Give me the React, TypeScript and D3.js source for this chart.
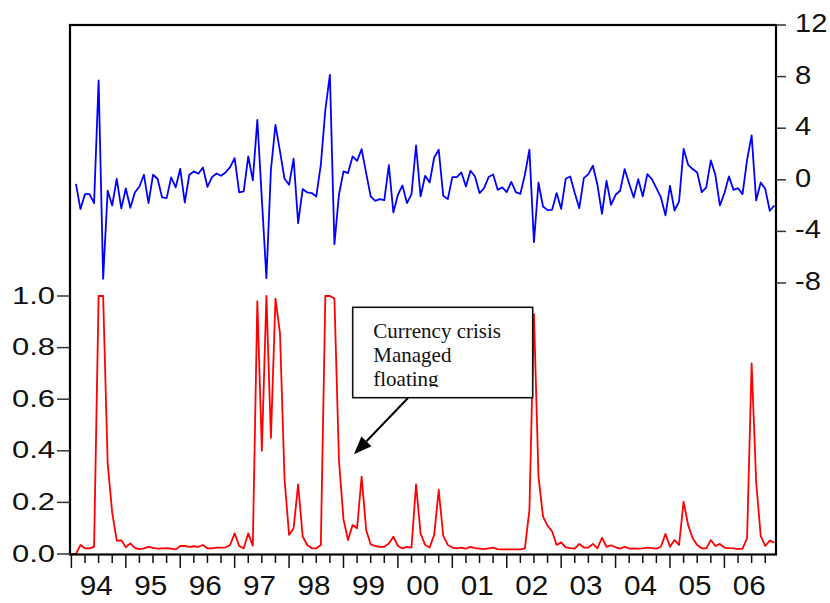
import React from "react";
import * as d3 from "d3";

// Monthly observations 1994M1 .. 2006M12
const startYear = 1994;
const yearLabels = ["94", "95", "96", "97", "98", "99", "00", "01", "02", "03", "04", "05", "06"];

// Probability series (left axis), 1994M1..2006M12
const probValues = [
  0, 0, 0.035, 0.022, 0.022, 0.028, 1.0, 1.0, 0.35, 0.16,
  0.052, 0.053, 0.026, 0.041, 0.024, 0.019, 0.022, 0.028, 0.024, 0.021,
  0.022, 0.023, 0.021, 0.018, 0.031, 0.031, 0.028, 0.03, 0.028, 0.035,
  0.022, 0.022, 0.025, 0.025, 0.026, 0.035, 0.08, 0.031, 0.022, 0.08,
  0.032, 0.98, 0.4, 1.0, 0.45, 0.99, 0.855, 0.29, 0.074, 0.1,
  0.27, 0.068, 0.035, 0.022, 0.022, 0.035, 1.0, 1.0, 0.99, 0.364,
  0.134, 0.054, 0.112, 0.1, 0.3, 0.093, 0.037, 0.031, 0.028, 0.028,
  0.041, 0.067, 0.031, 0.022, 0.028, 0.025, 0.27, 0.08, 0.035, 0.025,
  0.074, 0.248, 0.07, 0.035, 0.025, 0.022, 0.025, 0.021, 0.028, 0.023,
  0.021, 0.019, 0.022, 0.025, 0.019, 0.018, 0.018, 0.018, 0.018, 0.018,
  0.022, 0.17, 0.93, 0.3, 0.145, 0.11, 0.087, 0.035, 0.045, 0.026,
  0.023, 0.021, 0.039, 0.025, 0.025, 0.039, 0.022, 0.063, 0.028, 0.034,
  0.026, 0.021, 0.028, 0.021, 0.022, 0.021, 0.022, 0.025, 0.023, 0.021,
  0.028, 0.078, 0.028, 0.054, 0.035, 0.203, 0.112, 0.061, 0.035, 0.022,
  0.022, 0.054, 0.031, 0.039, 0.025, 0.023, 0.022, 0.019, 0.021, 0.061,
  0.739, 0.28, 0.07, 0.031, 0.052, 0.044,
];

// Change series (right axis), 1994M2..2006M12
const changeValues = [
  -0.31, -2.27, -1.11, -1.11, -1.81, 7.7, -7.67, -0.85, -1.99, 0.08,
  -2.22, -0.67, -2.17, -0.98, -0.52, 0.39, -1.81, 0.39, 0.08, -1.37,
  -1.42, 0.18, -0.59, 0.85, -1.76, 0.39, 0.65, 0.47, 0.96, -0.54,
  0.21, 0.49, 0.31, 0.57, 0.98, 1.68, -0.98, -0.9, 1.81, -0.05,
  4.65, -1.5, -7.62, 0.78, 4.26, 2.2, 0.08, -0.39, 1.63, -3.36,
  -0.72, -0.98, -1.03, -1.29, 1.15, 5.43, 8.14, -4.99, -1.16, 0.65,
  0.52, 1.81, 1.47, 2.38, 0.52, -1.29, -1.63, -1.5, -1.58, 1.14,
  -2.53, -1.16, -0.44, -1.81, -1.11, 2.66, -1.29, 0.31, -0.21, 1.73,
  2.33, -1.24, -1.5, 0.21, 0.21, 0.57, -0.52, 0.7, 0.26, -1.03,
  -0.65, 0.21, 0.41, -0.78, -0.59, -0.96, -0.16, -0.96, -1.09, 0.39,
  2.33, -4.83, -0.23, -2.07, -2.35, -2.33, -1.03, -2.25, 0.08, 0.26,
  -1.03, -2.2, 0.13, 0.44, 1.09, -0.39, -2.64, -0.08, -1.94, -1.16,
  -0.85, 0.83, -0.31, -1.37, 0.05, -1.29, 0.44, 0.05, -0.65, -1.37,
  -2.76, -0.47, -2.38, -1.68, 2.4, 1.16, 0.83, 0.57, -0.96, -0.59,
  1.5, 0.39, -1.99, -1.03, 0.26, -0.78, -0.65, -1.11, 1.55, 3.44,
  -1.6, -0.21, -0.7, -2.4, -1.99,
];

const leftTicks = [0, 0.2, 0.4, 0.6, 0.8, 1.0];
const rightTicks = [-8, -4, 0, 4, 8, 12];
const annotationLines = ["Currency crisis", "Managed", "floating"];

const W = 830;
const H = 603;
const frame = { left: 70, right: 776, top: 25, bottom: 554.5 };

const sans = "'Liberation Sans', Arial, Helvetica, sans-serif";
const serif = "'Liberation Serif', 'Times New Roman', Times, serif";

function charW(s: string) {
  let w = 0;
  for (const c of s) w += c === "." ? 0.278 : c === "-" ? 0.333 : 0.556;
  return w;
}

export default function App() {
  const nMonths = probValues.length;
  const x = d3.scaleLinear().domain([0, nMonths - 1]).range([71.4, 774.3]);
  const yL = d3.scaleLinear().domain([0, 1]).range([554, 296]);
  const yR = d3.scaleLinear().domain([-8, 12]).range([283, 25]);

  const redLine = d3
    .line<number>()
    .x((_, i) => x(i))
    .y((d) => yL(d))(probValues) as string;
  const blueLine = d3
    .line<number>()
    .x((_, i) => x(i + 1))
    .y((d) => yR(d))(changeValues) as string;

  const monthTicks = d3.range(0, nMonths, 3).filter((m) => x(m) <= frame.right);

  // arrow geometry
  const a0 = { x: 408, y: 398 };
  const a1 = { x: 354, y: 454.3 };
  const dx = a1.x - a0.x;
  const dy = a1.y - a0.y;
  const len = Math.hypot(dx, dy);
  const ux = dx / len;
  const uy = dy / len;
  const headL = 18;
  const headW = 7;
  const bx = a1.x - headL * ux;
  const by = a1.y - headL * uy;
  const head = `${a1.x},${a1.y} ${bx - headW * uy},${by + headW * ux} ${bx + headW * uy},${by - headW * ux}`;

  return (
    <svg
      width={W}
      height={H}
      style={{ position: "absolute", left: 0, top: 0, background: "#fff" }}
    >
      <defs>
        <clipPath id="boxclip">
          <rect x={353} y={308} width={179} height={79} />
        </clipPath>
      </defs>
      <rect x={0} y={0} width={W} height={H} fill="#fff" />

      {/* series */}
      <path d={blueLine} fill="none" stroke="#0000ff" strokeWidth={1.8} strokeLinejoin="round" />
      <path d={redLine} fill="none" stroke="#ff0000" strokeWidth={1.8} strokeLinejoin="round" />

      {/* frame */}
      <rect
        x={frame.left}
        y={frame.top}
        width={frame.right - frame.left}
        height={frame.bottom - frame.top}
        fill="none"
        stroke="#000"
        strokeWidth={2.2}
      />

      {/* left axis */}
      {leftTicks.map((v) => (
        <g key={"l" + v}>
          <line x1={57} x2={frame.left} y1={yL(v)} y2={yL(v)} stroke="#333" strokeWidth={1.5} />
          <text
            x={55}
            y={yL(v) + 7.5}
            textAnchor="end"
            fontFamily={sans}
            fontSize={23}
            textLength={43}
            lengthAdjust="spacingAndGlyphs"
            fill="#111"
          >
            {v.toFixed(1)}
          </text>
        </g>
      ))}

      {/* right axis */}
      {rightTicks.map((v) => (
        <g key={"r" + v}>
          <line x1={frame.right} x2={786} y1={yR(v)} y2={yR(v)} stroke="#333" strokeWidth={1.5} />
          <text
            x={795}
            y={yR(v) + 7}
            fontFamily={sans}
            fontSize={26}
            textLength={charW(String(v)) * 26 * 1.12}
            lengthAdjust="spacingAndGlyphs"
            fill="#111"
          >
            {String(v)}
          </text>
        </g>
      ))}

      {/* bottom axis */}
      {monthTicks.map((m) => (
        <line
          key={"t" + m}
          x1={x(m)}
          x2={x(m)}
          y1={frame.bottom}
          y2={m % 12 === 0 ? 568 : 563}
          stroke="#111"
          strokeWidth={1.5}
        />
      ))}
      {yearLabels.map((lab, k) => (
        <text
          key={"y" + lab}
          x={x(k * 12 + 5.5)}
          y={595}
          textAnchor="middle"
          fontFamily={sans}
          fontSize={28}
          textLength={33}
          lengthAdjust="spacingAndGlyphs"
          fill="#111"
        >
          {lab}
        </text>
      ))}

      {/* annotation */}
      <rect x={352.7} y={307.3} width={180} height={90.4} fill="#fff" stroke="#111" strokeWidth={1.6} />
      <g clipPath="url(#boxclip)">
        {annotationLines.map((t, i) => (
          <text key={t} x={373.3} y={338.3 + i * 23.7} fontFamily={serif} fontSize={21} fill="#111">
            {t}
          </text>
        ))}
      </g>
      <line x1={a0.x} y1={a0.y} x2={bx} y2={by} stroke="#000" strokeWidth={2} />
      <polygon points={head} fill="#000" />
    </svg>
  );
}
